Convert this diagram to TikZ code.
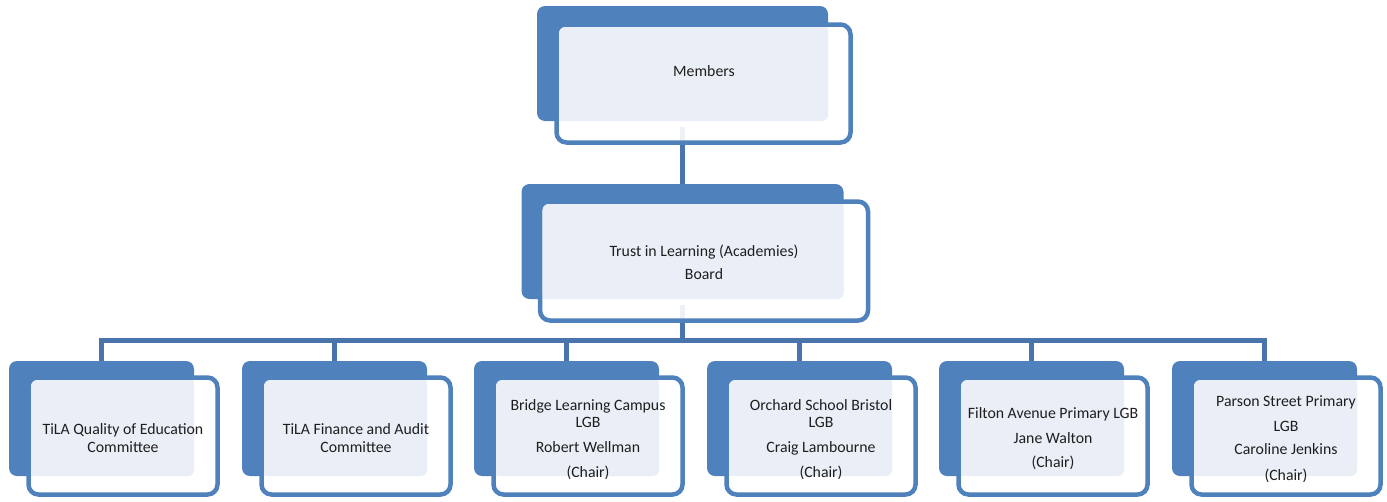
\documentclass[tikz,border=0pt]{standalone}
\usepackage{fontspec}
\setmainfont{Carlito}
\usetikzlibrary{calc}
\definecolor{bblue}{HTML}{4F81BD}
\definecolor{conncol}{HTML}{4A74AC}
\definecolor{lightfill}{HTML}{EAEFF7}
\definecolor{txtcol}{HTML}{1E1E1E}
\pgfdeclarelayer{background}
\pgfsetlayers{background,main}
\tikzset{
  bluebox/.style={rectangle, fill=bblue, draw=none, rounded corners=8pt, inner sep=0pt, outer sep=0pt, minimum height=115pt},
  outl/.style={draw=bblue, line width=4.5pt, fill=white, fill opacity=0.9, rounded corners=10pt},
  lightb/.style={fill=lightfill, rounded corners=6pt},
  conn/.style={draw=conncol, line width=5pt},
  lbl/.style={align=center, text=txtcol, font=\fontsize{15.8}{17}\selectfont, inner sep=0pt}
}
\newcommand\orgunit[7]{%
  \node[bluebox, minimum width=#3] (#1) at #2 {};
  \draw[outl] ([shift={(#4,#5)}]#1.north west) rectangle ([shift={(#6,#7)}]#1.south east);
  \fill[lightb] ([shift={(#4+2.5,#5+2.5)}]#1.north west) rectangle (#1.south east);
}
\begin{document}
\begin{tikzpicture}[x=1pt,y=-1pt]
\useasboundingbox (0,0) rectangle (1387,501);
% units
\orgunit{mem}{(682.5,63.5)}{291pt}{19.5}{18.5}{22.5}{21.5}
\orgunit{brd}{(682.5,241.5)}{322pt}{18.5}{17.5}{24.5}{21.5}
\orgunit{c1}{(101.5,418.5)}{185pt}{19.5}{16.5}{23.5}{18.5}
\orgunit{c2}{(334.5,418.5)}{185pt}{19.5}{16.5}{23.5}{18.5}
\orgunit{c3}{(566.5,418.5)}{185pt}{19.5}{16.5}{23.5}{18.5}
\orgunit{c4}{(799.5,418.5)}{185pt}{19.5}{16.5}{23.5}{18.5}
\orgunit{c5}{(1031.5,418.5)}{185pt}{19.5}{16.5}{23.5}{18.5}
\orgunit{c6}{(1264.5,418.5)}{185pt}{19.5}{16.5}{23.5}{18.5}
% connectors
\coordinate (bar) at (682.5,340);
\begin{pgfonlayer}{background}
\draw[conn] ([yshift=-6pt]mem.south) -- (brd.north);
\draw[conn] ([yshift=-6pt]brd.south) -- (bar);
\foreach \c in {c1,c2,c3,c4,c5,c6}{
  \draw[conn] (bar) -| (\c.north);
}
\end{pgfonlayer}
% labels
\node[lbl] (tmem) at (704,73.2) {\strut Members};
\node[lbl] (tbrd) at (704,264.5) {\strut Trust in Learning (Academies)\\[6pt]\strut Board};
\node[lbl] (t1) at (123,439.8) {\strut TiLA Quality of Education\\[1pt]\strut Committee};
\node[lbl] (t2) at (356,439.8) {\strut TiLA Finance and Audit\\[1pt]\strut Committee};
\node[lbl] (t3) at (588,440.3) {\strut Bridge Learning Campus\\\strut LGB\\[8pt]\strut Robert Wellman\\[8pt]\strut (Chair)};
\node[lbl] (t4) at (821,440.3) {\strut Orchard School Bristol\\\strut LGB\\[8pt]\strut Craig Lambourne\\[8pt]\strut (Chair)};
\node[lbl] (t5) at (1053,439.5) {\strut Filton Avenue Primary LGB\\[8pt]\strut Jane Walton\\[7pt]\strut (Chair)};
\node[lbl] (t6) at (1286,440) {\strut Parson Street Primary\\[8pt]\strut LGB\\[6pt]\strut Caroline Jenkins\\[9pt]\strut (Chair)};
\end{tikzpicture}
\end{document}
